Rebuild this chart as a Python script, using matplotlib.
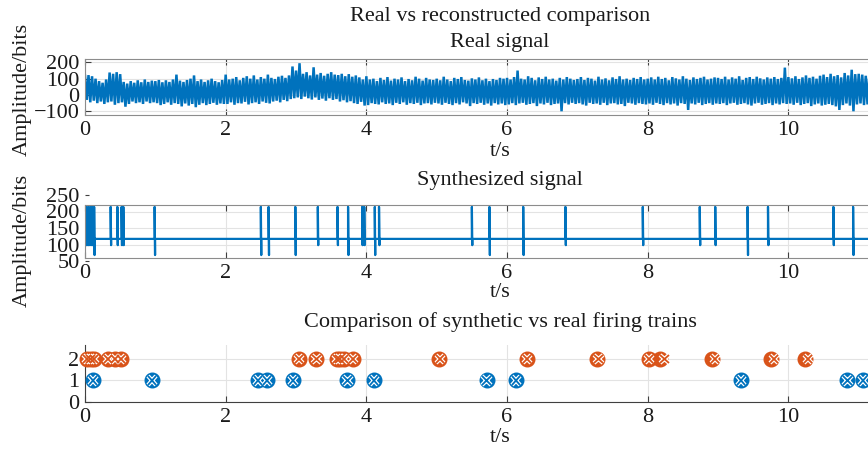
import numpy as np
import matplotlib
matplotlib.use('Agg')
import matplotlib.pyplot as plt
import matplotlib.patheffects as pe

BLUE = '#0072BD'
ORANGE = '#D95319'

# ---------------- data ----------------
real_dt = 0.05
real_hi = [118,122,115,100,85,75,95,138,130,140,128,80,70,85,75,90,78,95,80,88,
           85,92,78,90,80,95,125,88,80,92,100,120,85,95,80,90,100,85,78,92,
           125,95,100,110,90,105,115,100,120,95,110,100,125,105,98,112,118,105,120,175,
           150,195,130,140,120,170,125,135,118,130,140,125,122,130,115,128,112,120,108,95,
           115,95,100,85,105,92,110,88,100,95,108,85,98,90,112,100,88,105,95,92,
           100,90,112,95,85,105,98,110,92,88,102,95,108,90,100,85,98,92,105,100,
           105,95,110,150,100,95,115,105,90,108,98,112,95,100,88,105,95,110,100,92,
           98,110,92,105,100,88,112,95,102,90,108,98,115,95,100,92,105,98,110,95,
           100,108,95,112,98,105,90,110,102,95,115,100,92,108,98,105,112,95,100,108,
           105,98,112,95,108,100,115,92,105,110,98,112,102,95,108,100,110,98,105,168,
           110,102,115,98,108,120,105,112,100,118,125,110,130,115,122,108,135,120,155,128,
           130,125,118,122]
real_lo = [-30,-45,-35,-50,-40,-55,-45,-40,-60,-50,-45,-72,-55,-40,-50,-45,-55,-40,-50,-45,
           -50,-62,-55,-45,-60,-50,-55,-70,-52,-65,-55,-75,-60,-50,-62,-55,-48,-60,-52,-55,
           -55,-45,-60,-50,-52,-42,-58,-50,-45,-55,-40,-48,-52,-40,-35,-45,-30,-38,-25,-20,
           -15,-25,-10,-20,-28,-15,-30,-22,-35,-20,-30,-25,-40,-32,-45,-38,-50,-55,-42,-65,
           -62,-50,-55,-58,-45,-55,-52,-62,-48,-55,-45,-60,-50,-55,-48,-62,-52,-50,-58,-48,
           -52,-60,-48,-55,-62,-50,-58,-45,-52,-68,-50,-55,-48,-60,-52,-65,-50,-58,-52,-62,
           -58,-50,-62,-52,-48,-60,-55,-50,-68,-52,-58,-48,-62,-55,-52,-100,-50,-58,-48,-55,
           -50,-58,-65,-48,-55,-52,-60,-48,-62,-52,-50,-58,-55,-68,-48,-52,-60,-50,-55,-58,
           -52,-60,-48,-55,-62,-50,-58,-52,-65,-50,-55,-92,-52,-58,-48,-62,-55,-50,-60,-52,
           -55,-50,-62,-52,-48,-60,-55,-50,-58,-65,-52,-48,-60,-55,-50,-62,-52,-58,-50,-55,
           -52,-60,-48,-62,-55,-50,-68,-58,-52,-65,-60,-55,-62,-70,-92,-62,-52,-65,-100,-58,
           -52,-62,-58,-55]

syn_base = 117
syn_t = [0.02, 0.05, 0.08, 0.10, 0.13, 0.365, 0.46, 0.52, 0.545, 0.99,
         2.50, 2.61, 2.99, 3.31, 3.59, 3.74, 3.94, 3.97, 4.12, 4.18,
         5.50, 5.75, 6.23, 6.83, 7.93, 8.74, 8.96, 9.42, 9.71, 10.64, 10.92]
syn_hi = [214] * len(syn_t)
syn_lo = [98, 98, 98, 98, 68, 98, 98, 98, 98, 68,
          68, 68, 68, 98, 98, 68, 98, 98, 68, 98,
          98, 68, 68, 98, 98, 98, 98, 68, 98, 98, 68]

train2_circle = [0.03, 0.08, 0.13, 0.33, 0.43, 0.51, 3.04, 3.29, 3.58, 3.62,
                 3.68, 3.81, 5.03, 6.28, 7.28, 8.02, 8.17, 8.92, 9.75, 10.23]
train2_cross = [0.03, 0.08, 0.13, 0.33, 0.43, 0.51, 3.04, 3.29, 3.58, 3.62,
                3.68, 3.81, 5.05, 6.28, 7.30, 8.02, 8.24, 8.96, 9.80, 10.28]
train1_times = [0.11, 0.95, 2.46, 2.59, 2.96, 3.73, 4.11, 5.71, 6.13, 9.33, 10.84, 11.06]

xticks = [0, 2, 4, 6, 8, 10]
XMAX = 11.8

# ---------------- style ----------------
plt.rcParams['font.family'] = ['Liberation Serif', 'DejaVu Serif']
plt.rcParams['font.size'] = 16
TXT = '#1a1a1a'
GRID = '#e3e3e3'

W, H = 868, 450
fig = plt.figure(figsize=(W / 100, H / 100), dpi=100)

def rect(l, t, r, b):
    return [l / W, 1 - b / H, (r - l) / W, (b - t) / H]

ax1 = fig.add_axes(rect(85, 59, 915, 115))
ax2 = fig.add_axes(rect(85, 195, 915, 261))
ax3 = fig.add_axes(rect(85, 345, 915, 402))

for ax in (ax1, ax2, ax3):
    ax.set_xlim(0, XMAX)
    ax.set_xticks(xticks)
    ax.tick_params(direction='in', length=4, colors='#404040', labelcolor=TXT,
                   labelsize=16, pad=4)
    for s in ax.spines.values():
        s.set_color('#8c8c8c')
        s.set_linewidth(0.8)

# ---- axes 1: real signal ----
hi = np.asarray(real_hi, float)
lo = np.asarray(real_lo, float)
t_hi = np.arange(len(hi)) * real_dt
tt = np.empty(2 * len(hi)); vv = np.empty(2 * len(hi))
tt[0::2] = t_hi; tt[1::2] = t_hi + real_dt / 2
vv[0::2] = hi; vv[1::2] = lo
ax1.plot(tt, vv, color=BLUE, lw=1.8, solid_joinstyle='miter')
ax1.set_ylim(-123, 221)
ax1.set_yticks([-100, 0, 100, 200])
ax1.grid(True, color=GRID, lw=0.8)
ax1.set_axisbelow(True)
ax1.tick_params(top=True, right=True)
ax1.set_xlabel('t/s', color=TXT)
ax1.xaxis.set_label_coords(0.5, (115 - 152) / 56)
ax1.xaxis.label.set_va('center')
ax1.set_ylabel('Amplitude/bits', color=TXT)
ax1.yaxis.set_label_coords((22 - 85) / 830, (115 - 89) / 56)
ax1.yaxis.label.set_va('center')

# ---- axes 2: synthesized signal ----
xs = [0.0]; ys = [syn_base]
for ti, h, l in zip(syn_t, syn_hi, syn_lo):
    xs += [ti, ti, ti + 0.006, ti + 0.006]
    ys += [syn_base, h, l, syn_base]
xs.append(XMAX); ys.append(syn_base)
ax2.set_ylim(50, 250)
ax2.set_yticks([50, 100, 150, 200, 250])
BOT, TOP = 58, 220
ax2.hlines([100, 150, 200], 0, XMAX, color=GRID, lw=0.8, zorder=0)
ax2.vlines(xticks, BOT, TOP, color=GRID, lw=0.8, zorder=0)
ax2.plot(xs, ys, color=BLUE, lw=1.6, zorder=2)
ax2.spines['top'].set_position(('data', TOP))
ax2.spines['bottom'].set_position(('data', BOT))
ax2.spines['left'].set_bounds(BOT, TOP)
ax2.spines['right'].set_bounds(BOT, TOP)
ax2.tick_params(top=True, right=True)
ax2.tick_params(axis='y', length=3)
for tk in ax2.yaxis.get_major_ticks():
    if tk.get_loc() in (50, 250):
        tk.tick1line.set_visible(False)
        tk.tick2line.set_visible(False)
ax2.set_xlabel('t/s', color=TXT)
ax2.xaxis.set_label_coords(0.5, (261 - 293) / 66)
ax2.xaxis.label.set_va('center')
ax2.set_ylabel('Amplitude/bits', color=TXT)
ax2.yaxis.set_label_coords((22 - 85) / 830, (261 - 240) / 66)
ax2.yaxis.label.set_va('center')

# ---- axes 3: firing trains ----
ax3.set_ylim(0, 2.65)
ax3.set_yticks([0, 1, 2])
ax3.spines['top'].set_visible(False)
ax3.spines['right'].set_visible(False)
ax3.spines['left'].set_color('#404040')
ax3.spines['bottom'].set_color('#404040')
ax3.grid(True, color=GRID, lw=0.8)
ax3.set_axisbelow(True)
xstroke = [pe.Stroke(linewidth=3.0, foreground='white'), pe.Normal()]
ax3.plot(train2_circle, np.full(len(train2_circle), 2), 'o', ms=10.5,
         mfc=ORANGE, mec=ORANGE, clip_on=False, zorder=3)
ax3.plot(train2_cross, np.full(len(train2_cross), 2), 'x', ms=6.0, mew=1.3,
         color=ORANGE, clip_on=False, zorder=4, path_effects=xstroke)
ax3.plot(train1_times, np.full(len(train1_times), 1), 'o', ms=10.5,
         mfc=BLUE, mec=BLUE, clip_on=False, zorder=3)
ax3.plot(train1_times, np.full(len(train1_times), 1), 'x', ms=6.0, mew=1.3,
         color=BLUE, clip_on=False, zorder=4, path_effects=xstroke)
ax3.set_xlabel('t/s', color=TXT)
ax3.xaxis.set_label_coords(0.5, (402 - 437) / 57)
ax3.xaxis.label.set_va('center')

# ---- titles ----
CX = 500 / W
fig.text(CX, 1 - 17 / H, 'Real vs reconstructed comparison', ha='center', va='center', color=TXT, fontsize=16)
fig.text(CX, 1 - 42 / H, 'Real signal', ha='center', va='center', color=TXT, fontsize=16)
fig.text(CX, 1 - 181 / H, 'Synthesized signal', ha='center', va='center', color=TXT, fontsize=16)
fig.text(CX, 1 - 322 / H, 'Comparison of synthetic vs real firing trains', ha='center', va='center', color=TXT, fontsize=16)

fig.savefig('out.png', dpi=100)
